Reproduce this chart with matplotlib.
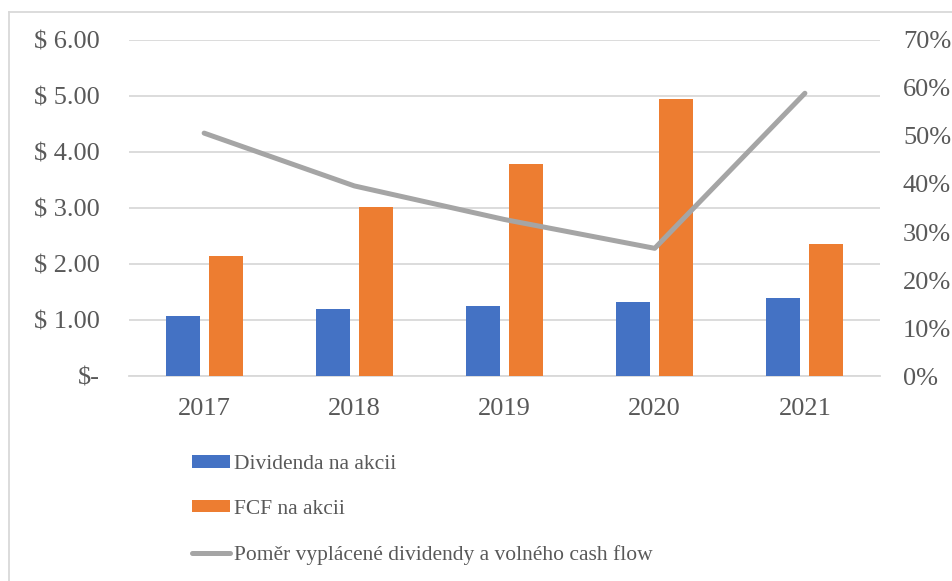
import matplotlib.pyplot as plt
import numpy as np
from matplotlib.lines import Line2D
from matplotlib.ticker import FuncFormatter, PercentFormatter

plt.rcParams['font.family'] = ['Liberation Serif', 'DejaVu Serif']

# data
years = ['2017', '2018', '2019', '2020', '2021']
dividend = [1.08, 1.19, 1.25, 1.32, 1.39]     # Dividenda na akcii
fcf = [2.14, 3.02, 3.78, 4.95, 2.36]          # FCF na akcii
payout = [50.6, 39.6, 32.6, 26.6, 58.9]       # pomer v %

blue = '#4472C4'
orange = '#ED7D31'
grey = '#A5A5A5'
txt = '#595959'

fig = plt.figure(figsize=(9.53, 5.81), dpi=100)
ax1 = fig.add_axes([0.1354, 0.3528, 0.788, 0.5784])
ax2 = ax1.twinx()

x = np.arange(len(years))
w = 0.227
off = 0.143
ax1.bar(x - off, dividend, w, color=blue, label='Dividenda na akcii', zorder=3)
ax1.bar(x + off, fcf, w, color=orange, label='FCF na akcii', zorder=3)
ax2.plot(x, payout, color=grey, lw=3.6, solid_capstyle='round',
         solid_joinstyle='round', label='Poměr vyplácené dividendy a volného cash flow')

ax1.set_xlim(-0.5, 4.5)
ax1.set_ylim(0, 6)
ax2.set_ylim(0, 70)
ax1.set_yticks(np.arange(0, 7))
ax2.set_yticks(np.arange(0, 71, 10))
ax1.yaxis.set_major_formatter(FuncFormatter(lambda v, p: '$-' if v == 0 else f'$ {v:.2f}'))
ax2.yaxis.set_major_formatter(PercentFormatter(decimals=0))
ax1.set_xticks(x)
ax1.set_xticklabels(years)

ax1.grid(axis='y', color='#D9D9D9', lw=1.3, zorder=0)
for ax in (ax1, ax2):
    for s in ax.spines.values():
        s.set_visible(False)
    ax.tick_params(length=0, labelsize=19, colors=txt)
ax1.spines['bottom'].set_visible(True)
ax1.spines['bottom'].set_color('#D9D9D9')
ax1.spines['bottom'].set_linewidth(1.3)
ax1.tick_params(axis='y', pad=21)
ax2.tick_params(axis='y', pad=16.5)
ax1.tick_params(axis='x', pad=16)

ax1.set_zorder(ax2.get_zorder() - 1)
ax1.patch.set_visible(False)

h1, l1 = ax1.get_legend_handles_labels()
h2, l2 = ax2.get_legend_handles_labels()
fig.legend(h1 + h2, l1 + l2, loc='upper left', bbox_to_anchor=(0.181, 0.25),
           frameon=False, fontsize=15.5, labelcolor=txt, handlelength=1.75,
           handleheight=0.5, handletextpad=0.23, labelspacing=1.2)

# chart border
fig.add_artist(Line2D([9 / 953, 9 / 953], [0, 1 - 12 / 581], color='#D9D9D9', lw=1.3))
fig.add_artist(Line2D([9 / 953, 1], [1 - 12 / 581, 1 - 12 / 581], color='#D9D9D9', lw=1.3))

fig.savefig('out.png', dpi=100)
